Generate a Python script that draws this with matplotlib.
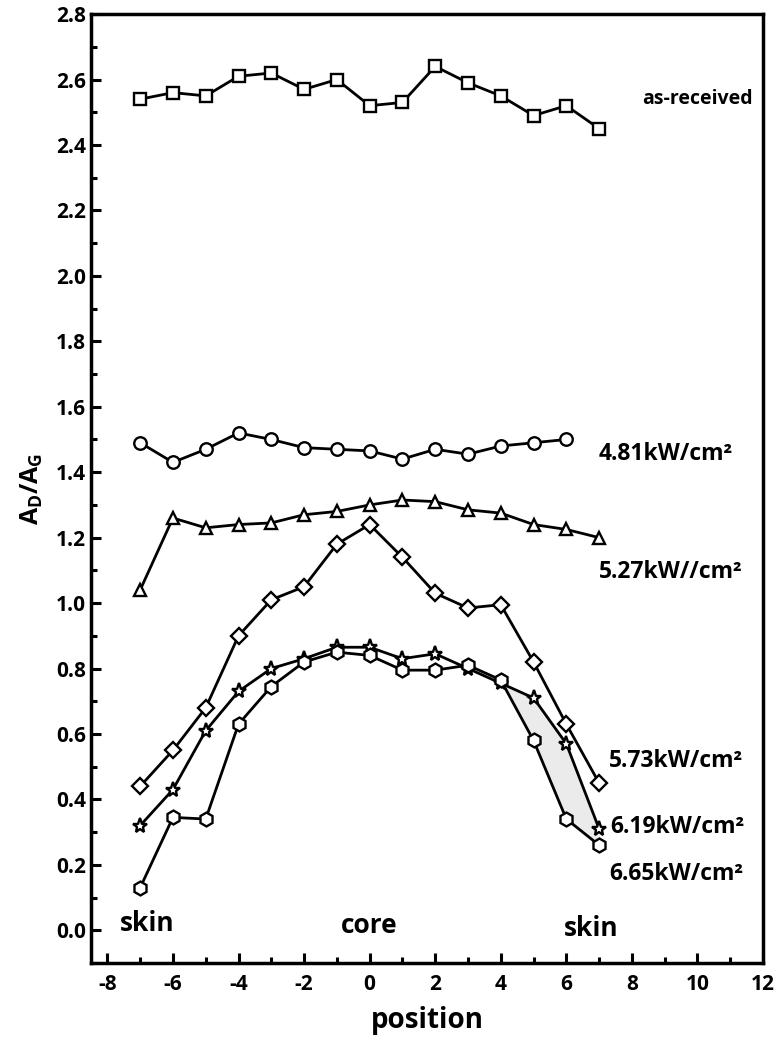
import numpy as np
import matplotlib
matplotlib.use("Agg")
import matplotlib.pyplot as plt
from matplotlib.ticker import MultipleLocator

plt.rcParams['font.family'] = ['Open Sans', 'DejaVu Sans']
plt.rcParams['font.weight'] = 'bold'
plt.rcParams['axes.unicode_minus'] = False
plt.rcParams['mathtext.fontset'] = 'custom'
plt.rcParams['mathtext.bf'] = 'Open Sans:bold'
plt.rcParams['mathtext.rm'] = 'Open Sans:bold'

# data
position = [-7, -6, -5, -4, -3, -2, -1, 0, 1, 2, 3, 4, 5, 6, 7]
as_received = [2.54, 2.56, 2.55, 2.61, 2.62, 2.57, 2.60, 2.52, 2.53, 2.64, 2.59, 2.55, 2.49, 2.52, 2.45]
p481 = [1.49, 1.43, 1.47, 1.52, 1.50, 1.475, 1.47, 1.465, 1.44, 1.47, 1.455, 1.48, 1.49, 1.50]
p527 = [1.04, 1.26, 1.23, 1.24, 1.245, 1.27, 1.28, 1.30, 1.315, 1.31, 1.285, 1.275, 1.24, 1.225, 1.20]
p573 = [0.44, 0.55, 0.68, 0.90, 1.01, 1.05, 1.18, 1.24, 1.14, 1.03, 0.985, 0.995, 0.82, 0.63, 0.45]
p619 = [0.32, 0.43, 0.61, 0.73, 0.80, 0.83, 0.865, 0.865, 0.83, 0.845, 0.80, 0.755, 0.71, 0.57, 0.31]
p665 = [0.13, 0.345, 0.34, 0.63, 0.745, 0.82, 0.85, 0.84, 0.795, 0.795, 0.81, 0.765, 0.58, 0.34, 0.26]

labels = ['as-received', '4.81kW/cm²', '5.27kW//cm²', '5.73kW/cm²', '6.19kW/cm²', '6.65kW/cm²']
label_pos = [(8.3, 2.54), (7.0, 1.457), (7.0, 1.095), (7.3, 0.517), (7.35, 0.315), (7.3, 0.171)]
label_size = [14, 16.5, 16.5, 16.5, 16.5, 16.5]

fig = plt.figure(figsize=(7.83, 10.52), dpi=100)
ax = fig.add_axes([0.1162, 0.0846, 0.8583, 0.902])

x = np.array(position)
kw = dict(color='black', lw=2, mfc='white', mec='black', mew=1.7)
ax.plot(x, as_received, marker='s', ms=9, **kw)
ax.plot(x[:len(p481)], p481, marker='o', ms=9, **kw)
ax.plot(x, p527, marker='^', ms=9, **kw)
ax.plot(x, p573, marker='D', ms=8, **kw)
ax.plot(x, p619, marker='*', ms=11, **kw)
ax.plot(x, p665, marker='h', ms=10, **kw)

# light shading between the two lowest curves near the right skin
sel = x >= 4
ax.fill_between(x[sel], np.array(p665)[sel], np.array(p619)[sel], color='#ebebeb', zorder=0, lw=0)

for txt, (tx, ty), fs in zip(labels, label_pos, label_size):
    ax.text(tx, ty, txt, fontsize=fs, fontweight='bold', ha='left', va='center')

ax.text(-6.8, 0.02, 'skin', fontsize=19, fontweight='bold', ha='center', va='center')
ax.text(0, 0.015, 'core', fontsize=19, fontweight='bold', ha='center', va='center')
ax.text(6.75, 0.005, 'skin', fontsize=19, fontweight='bold', ha='center', va='center')

ax.set_xlim(-8.5, 12)
ax.set_ylim(-0.1, 2.8)
ax.xaxis.set_major_locator(MultipleLocator(2))
ax.xaxis.set_minor_locator(MultipleLocator(1))
ax.yaxis.set_minor_locator(MultipleLocator(0.1))
ax.set_yticks(np.arange(0, 2.81, 0.2))
ax.tick_params(which='both', direction='in', width=2.2)
ax.tick_params(which='major', length=7, labelsize=15)
ax.tick_params(axis='x', which='major', pad=8)
ax.tick_params(which='minor', length=4)
for lab in ax.get_xticklabels() + ax.get_yticklabels():
    lab.set_fontweight('bold')
for sp in ax.spines.values():
    sp.set_linewidth(2.5)

ax.set_xlabel('position', fontsize=20, fontweight='bold', labelpad=8)
ax.set_ylabel(r'$\mathbf{A_D/A_G}$', fontsize=18, labelpad=8)

fig.savefig('out.png', dpi=100)
